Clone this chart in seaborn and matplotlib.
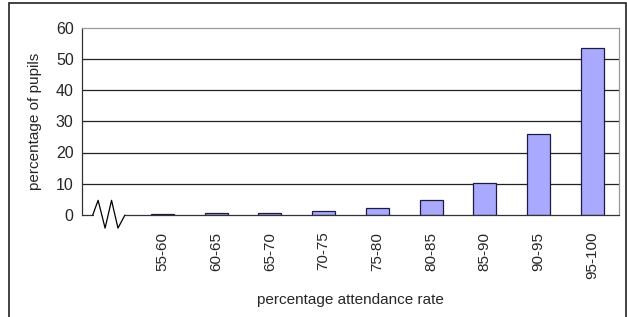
import matplotlib
matplotlib.use("Agg")
import matplotlib.pyplot as plt
import seaborn as sns
import pandas as pd
from matplotlib.patches import Rectangle

# data
bands = ['55-60', '60-65', '65-70', '70-75', '75-80', '80-85', '85-90', '90-95', '95-100']
pupils_pct = [0.3, 0.7, 0.6, 1.3, 2.2, 4.7, 10.1, 26.0, 53.5]
y_ticks = [0, 10, 20, 30, 40, 50, 60]

sns.set_style("white")
plt.rcParams['font.family'] = ['Liberation Sans', 'DejaVu Sans']

df = pd.DataFrame({'band': bands, 'pct': pupils_pct})

fig = plt.figure(figsize=(6.27, 3.17), dpi=100)
ax = fig.add_axes([82/627, 1 - 215/317, 537/627, 187.5/317])

sns.barplot(data=df, x='band', y='pct', order=bands, color='#a9aaff',
            saturation=1, width=0.43, edgecolor='#1c1c40', linewidth=0.9, ax=ax)

ax.set_xlim(-1.5, len(bands) - 0.5)
ax.set_ylim(0, 60)
ax.set_yticks(y_ticks)
ax.set_yticklabels([str(v) for v in y_ticks], fontsize=11.5)
ax.set_xticks(range(len(bands)))
ax.set_xticklabels(bands, rotation=90, fontsize=11)
ax.set_xticks([i + 0.5 for i in range(-1, len(bands))], minor=True)
ax.tick_params(axis='x', which='major', length=0, pad=12)
ax.tick_params(axis='x', which='minor', length=4, width=0.8, color='#333333', direction='out')
ax.tick_params(axis='y', length=4, width=0.8, color='#333333', direction='out', pad=2)

ax.set_axisbelow(True)
for v in y_ticks[1:-1]:
    ax.axhline(v, color='#222222', lw=0.9, zorder=0)

ax.spines['top'].set_color('#999999')
ax.spines['right'].set_color('#999999')
ax.spines['left'].set_color('#333333')
ax.spines['bottom'].set_visible(False)
for s in ['top', 'right', 'left']:
    ax.spines[s].set_linewidth(0.9)

# broken x-axis with zigzag in the empty first slot
ax.plot([-1.5, -1.3], [0, 0], color='#333333', lw=0.9, clip_on=False)
ax.plot([-0.7, len(bands) - 0.5], [0, 0], color='#333333', lw=0.9, clip_on=False, zorder=3)
zx = [-1.3, -1.2, -1.07, -0.95, -0.83, -0.7]
zy = [0, 4.7, -4.2, 4.7, -4.2, 0]
ax.plot(zx, zy, color='black', lw=0.9, clip_on=False)

ax.set_xlabel('percentage attendance rate', fontsize=11, labelpad=10)
ax.set_ylabel('percentage of pupils', fontsize=11, labelpad=10)

# outer frame of the chart object
fig.patches.append(Rectangle((9/627, -0.05), 617/627, 1.05 - 3/317, transform=fig.transFigure,
                             fill=False, edgecolor='#222222', lw=1.2))

fig.savefig('out.png', dpi=100)
